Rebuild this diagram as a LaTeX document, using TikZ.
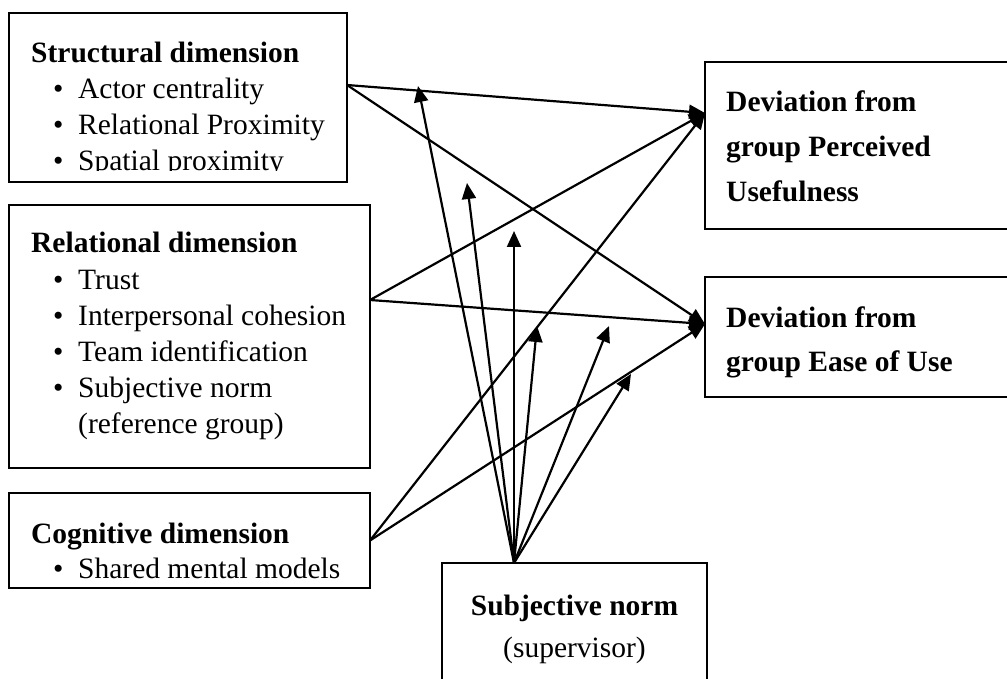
\documentclass[tikz,border=0pt]{standalone}
\usepackage{fontspec}
\setmainfont{Liberation Serif}
\usetikzlibrary{arrows.meta}
\newcommand{\bl}[1]{\makebox[25pt][l]{\textbullet}#1}
\begin{document}
\begin{tikzpicture}[x=1pt,y=-1pt,
  box/.style={draw, line width=2pt, inner sep=0pt, outer sep=0pt, anchor=north west},
  lbl/.style={anchor=base west, inner sep=0pt, font=\fontsize{29.5}{36}\selectfont},
  ttl/.style={anchor=base west, inner sep=0pt, font=\fontsize{29.5}{36}\selectfont\bfseries},
  ctr/.style={anchor=base, inner sep=0pt, font=\fontsize{29.5}{36}\selectfont},
  arr/.style={-{Triangle[length=16pt,width=14pt]}, line width=2.2pt}]
\useasboundingbox (0,0) rectangle (1007,679);
\clip (0,0) rectangle (1007,679);
\fill[white] (0,0) rectangle (1007,679);

% boxes
\node[box, minimum width=338pt, minimum height=169pt] (s) at (9,13) {};
\node[box, minimum width=361pt, minimum height=263pt] (r) at (9,205) {};
\node[box, minimum width=361pt, minimum height=95pt] (c) at (9,493) {};
\node[box, minimum width=330pt, minimum height=167pt] (pu) at (705,62) {};
\node[box, minimum width=330pt, minimum height=120pt] (eou) at (705,277) {};
\node[box, minimum width=265pt, minimum height=150pt] (sn) at (442,563) {};

% structural text
\begin{scope}
\clip (9,13) rectangle (347,170.5);
\node[ttl] (s0) at (31,63) {Structural dimension};
\node[lbl] (s1) at (53,99) {\bl{Actor centrality}};
\node[lbl] (s2) at (53,135) {\bl{Relational Proximity}};
\node[lbl] (s3) at (53,171) {\bl{Spatial proximity}};
\end{scope}

% relational text
\node[ttl] (r0) at (31,253) {Relational dimension};
\node[lbl] (r1) at (53,289) {\bl{Trust}};
\node[lbl] (r2) at (53,325) {\bl{Interpersonal cohesion}};
\node[lbl] (r3) at (53,361) {\bl{Team identification}};
\node[lbl] (r4) at (53,397) {\bl{Subjective norm}};
\node[lbl] (r5) at (78,433) {(reference group)};

% cognitive text
\node[ttl] (c0) at (31,543) {Cognitive dimension};
\node[lbl] (c1) at (53,578) {\bl{Shared mental models}};

% outcome texts
\node[ttl] (pu1) at (726,112) {Deviation from};
\node[ttl] (pu2) at (726,157) {group Perceived};
\node[ttl] (pu3) at (726,202) {Usefulness};
\node[ttl] (eou1) at (726,327) {Deviation from};
\node[ttl] (eou2) at (726,371) {group Ease of Use};

% supervisor text
\node[ctr, font=\fontsize{29.5}{36}\selectfont\bfseries] (sn1) at (574.5,615) {Subjective norm};
\node[ctr] (sn2) at (574.5,657) {(supervisor)};

% ports
\coordinate (so) at ([yshift=12.5pt]s.east);
\coordinate (ro) at ([yshift=36.5pt]r.east);
\coordinate (co) at (c.east);
\coordinate (pui) at ([yshift=32.5pt]pu.west);
\coordinate (eoui) at ([yshift=13pt]eou.west);
\coordinate (sno) at ([xshift=-60.5pt]sn.north);

% free ends of supervisor arrows
\coordinate (t1) at (418,86);
\coordinate (t2) at (467,183);
\coordinate (t3) at (514,231);
\coordinate (t4) at (537,326);
\coordinate (t5) at (609,326);
\coordinate (t6) at (631,374);

% connectors
\draw[arr] (so) -- (pui);
\draw[arr] (so) -- (eoui);
\draw[arr] (ro) -- (pui);
\draw[arr] (ro) -- (eoui);
\draw[arr] (co) -- (pui);
\draw[arr] (co) -- (eoui);
\foreach \t in {t1,t2,t3,t4,t5,t6}
  \draw[arr] (sno) -- (\t);
\end{tikzpicture}
\end{document}
